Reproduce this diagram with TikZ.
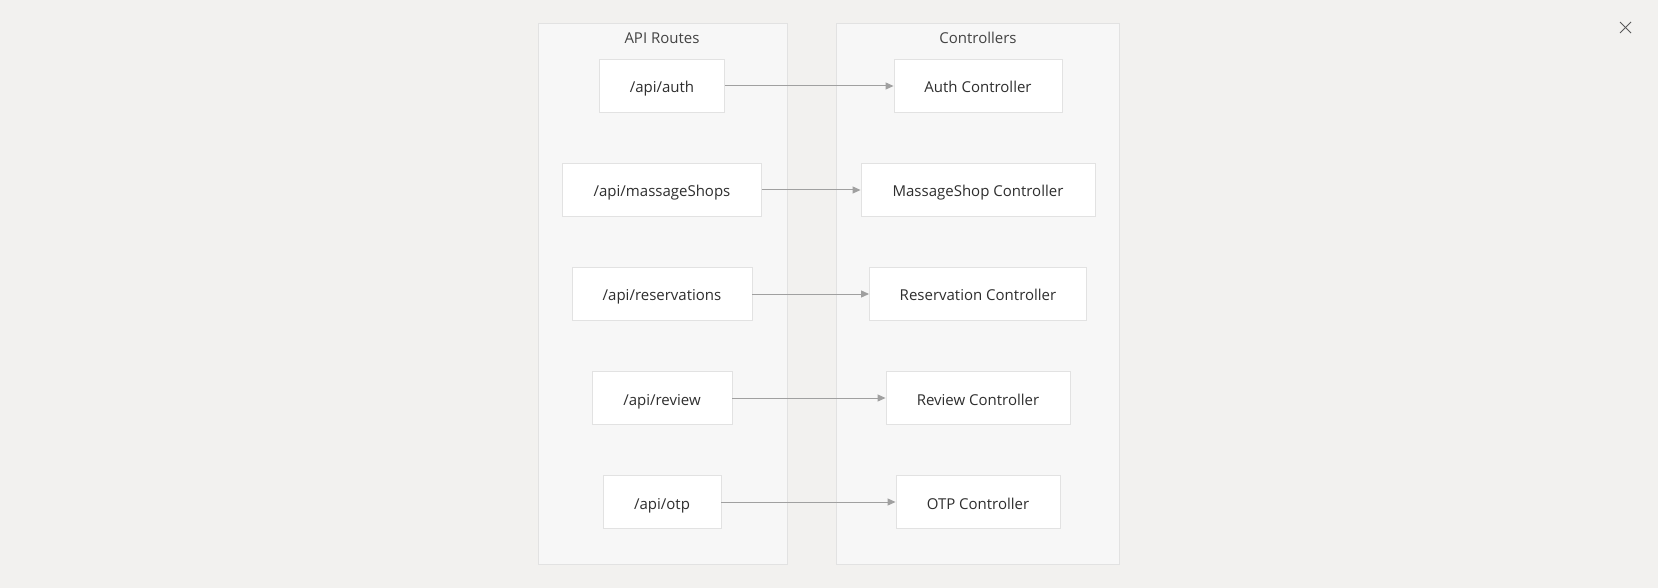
\documentclass[tikz,border=0pt]{standalone}
\usepackage{fontspec}
\setmainfont{Open Sans}
\usetikzlibrary{arrows.meta}
\definecolor{bgc}{HTML}{F2F1EF}
\definecolor{clfill}{HTML}{F7F7F7}
\definecolor{clline}{HTML}{E2E2E2}
\definecolor{txt}{HTML}{2E2E2E}
\definecolor{arr}{HTML}{A0A0A0}
\begin{document}
\begin{tikzpicture}[x=1pt,y=-1pt,
  cluster/.style={draw=clline,fill=clfill,line width=0.9pt},
  box/.style={draw=clline,fill=white,line width=0.9pt,minimum height=53pt,inner sep=0pt,text=txt,text height=15pt,text depth=1pt,font=\fontsize{15}{17}\selectfont},
  title/.style={text=txt!90,font=\fontsize{15}{17}\selectfont,inner sep=0pt,text height=11pt,text depth=3pt},
  link/.style={draw=arr,line width=1pt,-{Triangle[length=8pt,width=7pt]}},
  closex/.style={draw=txt!80,line width=1pt}]
\path[fill=bgc,use as bounding box] (0,0) rectangle (1658,588);
\draw[cluster] (538,23) rectangle (787,564);
\draw[cluster] (836,23) rectangle (1119,564);
\node[title] (t1) at (662,39.5) {API Routes};
\node[title] (t2) at (978,39.5) {Controllers};
% left nodes
\node[box,minimum width=125pt] (r1) at (662,86) {/api/auth};
\node[box,minimum width=199pt] (r2) at (662,190) {/api/massageShops};
\node[box,minimum width=180pt] (r3) at (662,294) {/api/reservations};
\node[box,minimum width=140pt] (r4) at (662,398) {/api/review};
\node[box,minimum width=118pt] (r5) at (662,502) {/api/otp};
% right nodes
\node[box,minimum width=168pt] (c1) at (978,86) {Auth Controller};
\node[box,minimum width=234pt] (c2) at (978,190) {MassageShop Controller};
\node[box,minimum width=217pt] (c3) at (978,294) {Reservation Controller};
\node[box,minimum width=184pt] (c4) at (978,398) {Review Controller};
\node[box,minimum width=164pt] (c5) at (978,502) {OTP Controller};
\foreach \i in {1,...,5} \draw[link] (r\i.east) -- (c\i.west);
% close icon
\coordinate (x1) at (1620,22);
\coordinate (x2) at (1631,33);
\coordinate (x3) at (1620,33);
\coordinate (x4) at (1631,22);
\draw[closex] (x1) -- (x2);
\draw[closex] (x3) -- (x4);
\end{tikzpicture}
\end{document}
